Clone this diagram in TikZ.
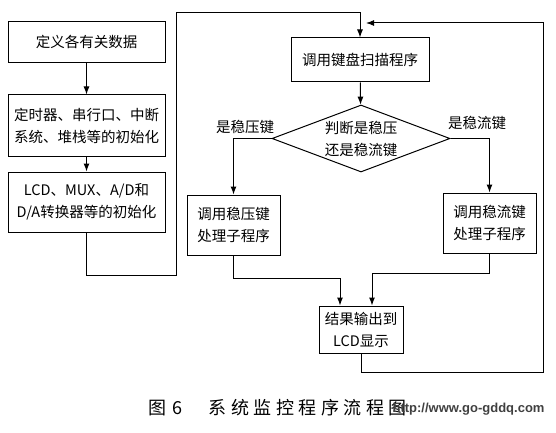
\documentclass[tikz,border=0pt]{standalone}
\usepackage{fontspec}
\setmainfont{Noto Sans CJK SC}
\newfontfamily\capfont[LetterSpace=25]{Noto Sans CJK SC}
\newfontfamily\webfont{Liberation Sans}
\usetikzlibrary{shapes.geometric,arrows.meta}

\begin{document}
\begin{tikzpicture}[x=1pt, y=-1pt,
		box/.style={draw, line width=1pt, align=center, inner sep=2pt, font=\fontsize{14.5}{22}\selectfont},
		judge/.style={draw, line width=1pt, diamond, align=center, inner sep=0pt, shape aspect=2.66, minimum width=178pt, minimum height=67pt, font=\fontsize{14.5}{22}\selectfont},
		flow/.style={line width=1pt, -{Latex[length=8pt,width=6pt]}},
		tag/.style={font=\fontsize{14.5}{16}\selectfont}]
		\useasboundingbox (0,0) rectangle (556,433);

		\coordinate (L1) at (176, 275);
		\coordinate (L2) at (176, 13);
		\coordinate (R1) at (543, 372);
		\coordinate (R2) at (543, 23);
		\coordinate (R3) at (366, 23);
		\coordinate (J1) at (340, 278);
		\coordinate (J2) at (372, 273);

		\node[box, minimum width=157pt, minimum height=41pt] (define) at (86.5, 42) {定义各有关数据};
		\node[box, minimum width=157pt, minimum height=61pt] (init) at (86.5, 125.5) {定时器、串行口、中断\\系统、堆栈等的初始化};
		\node[box, minimum width=157pt, minimum height=60pt] (convert) at (86.5, 202) {LCD、MUX、A/D和\\D/A转换器等的初始化};
		\node[box, minimum width=138pt, minimum height=44pt] (scan) at (360, 60) {调用键盘扫描程序};
		\node[judge] (judge) at (361, 138.5) {判断是稳压\\还是稳流键};
		\node[box, minimum width=93pt, minimum height=60pt] (volt) at (233.5, 225) {调用稳压键\\处理子程序};
		\node[box, minimum width=93pt, minimum height=60pt] (curr) at (489.5, 223) {调用稳流键\\处理子程序};
		\node[box, minimum width=84pt, minimum height=47pt] (lcd) at (361, 329.5) {结果输出到\\LCD显示};

		\node[tag] (voltkey) at (245, 127) {是稳压键};
		\node[tag] (currkey) at (477, 123) {是稳流键};

		\draw[flow] (define) -- (init);
		\draw[flow] (init) -- (convert);
		\draw[flow] (convert.south) |- (L1) -- (L2) -| (scan.north);
		\draw[flow] (scan) -- (judge);
		\draw[flow] (judge.west) -| (volt.north);
		\draw[flow] (judge.east) -| (curr.north);
		\draw[flow] (volt.south) |- (J1) -- (J1 |- lcd.north);
		\draw[flow] (curr.south) |- (J2) -- (J2 |- lcd.north);
		\draw[flow] (lcd.south) |- (R1) -- (R2) -- (R3);

		\node[anchor=west, font=\fontsize{18}{20}\capfont] (caption) at (145, 408) {图\hspace{6pt}6\hspace{26pt}系统监控程序流程图};
		\node[anchor=east, font=\fontsize{13}{15}\webfont\bfseries, text=black!75] (site) at (548, 409) {http://www.go-gddq.com};
	\end{tikzpicture}
\end{document}
